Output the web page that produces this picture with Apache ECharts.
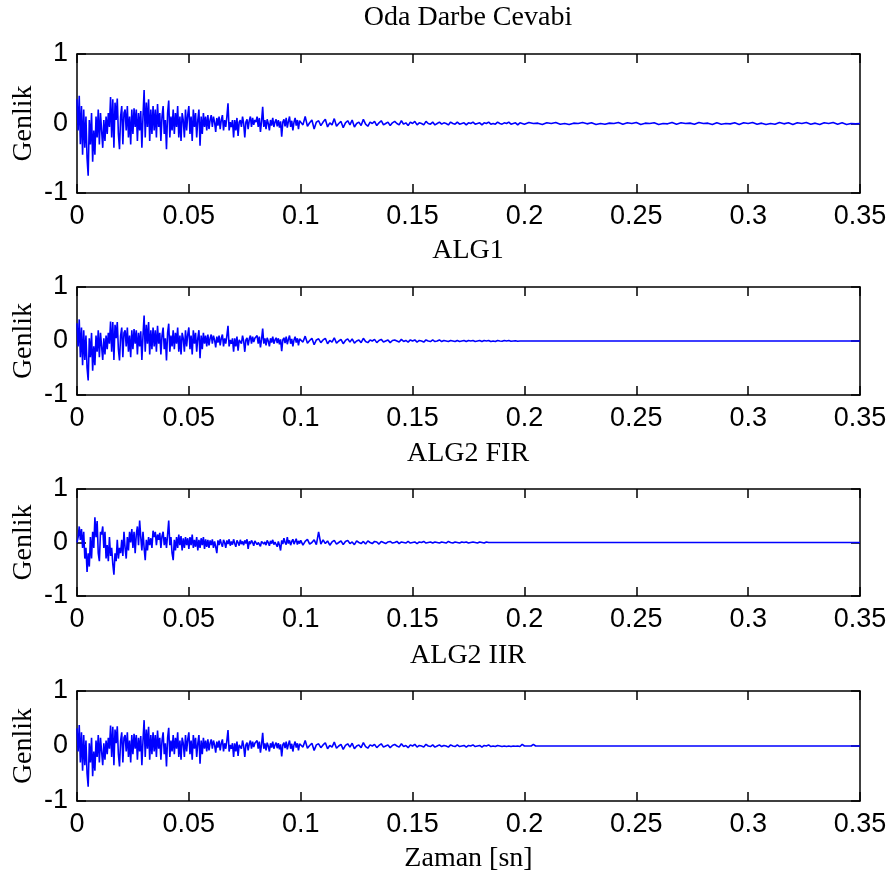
<!DOCTYPE html>
<html>
<head>
<meta charset="utf-8">
<script src="https://cdn.jsdelivr.net/npm/echarts@6/dist/echarts.min.js"></script>
<style>
  html, body { margin: 0; padding: 0; background: #fff; }
  #chart { width: 890px; height: 888px; }
</style>
</head>
<body>
<div id="chart"></div>
<script>
// Panel titles and axis text
const panelTitles = ['Oda Darbe Cevabi', 'ALG1', 'ALG2 FIR', 'ALG2 IIR'];
const yName = 'Genlik';
const xName = 'Zaman [sn]';
const xTicks = [0, 0.05, 0.1, 0.15, 0.2, 0.25, 0.3, 0.35];
const yTicks = [-1, 0, 1];

// Sampling of the stored segments (seconds)
const fineStep = 0.0005;   // 0 .. 0.1 s
const midStep = 0.001;     // 0.1 s onward
const tailStep = 0.002;    // 0.2 .. 0.35 s (room response only)
const midStart = 0.1;
const tailStart = 0.2;
const endTime = 0.35;
const restValue = 0;

// Room impulse response ("Oda Darbe Cevabi"), 0 .. 0.0995 s
const roomEarly = [
  0.35, -0.1, 0.4, -0.3, 0.25, -0.45, 0.2, -0.35, 0.1, -0.5,
  -0.75, 0.05, -0.3, 0.15, -0.55, -0.1, -0.45, 0.1, -0.2, 0.2,
  -0.3, 0.15, -0.1, -0.35, 0.05, -0.25, 0.1, -0.15, 0.15, -0.05,
  0.38, -0.2, 0.35, -0.35, 0.3, 0.05, 0.36, -0.15, -0.37, 0.1,
  0.25, -0.3, 0.15, 0.2, -0.1, 0.25, -0.2, 0.1, -0.3, 0.2,
  -0.15, 0.22, -0.05, 0.2, -0.25, 0.15, -0.1, 0.18, -0.35, 0.1,
  0.48, -0.2, 0.3, -0.05, 0.35, -0.25, 0.2, -0.15, 0.25, -0.1,
  0.2, -0.2, 0.28, -0.05, 0.15, -0.25, 0.1, 0.25, -0.15, 0.05,
  -0.37, 0.15, 0.33, -0.2, 0.1, -0.1, 0.2, -0.15, 0.15, -0.05,
  0.25, -0.2, 0.1, -0.25, 0.15, 0.05, -0.2, 0.2, -0.1, 0.12,
  0.25, -0.15, 0.1, -0.25, 0.2, -0.05, 0.15, -0.2, 0.05, 0.2,
  -0.32, 0.1, -0.15, 0.15, -0.05, 0.1, -0.1, 0.12, -0.08, 0.05,
  0.12, -0.05, 0.1, 0.02, -0.12, 0.08, -0.03, 0.1, -0.08, 0.05,
  0.12, -0.1, 0.05, -0.05, 0.1, 0.29, -0.1, 0.02, -0.05, 0.05,
  -0.2, 0.05, -0.1, 0.08, -0.18, 0.02, 0.05, -0.05, 0.1, 0,
  -0.2, 0.02, 0.06, -0.08, 0.04, 0.1, -0.05, 0.08, -0.02, 0.05,
  0.02, 0.1, -0.05, 0.08, -0.12, 0.03, 0.24, -0.05, 0.05, -0.08,
  0.06, 0, -0.1, 0.05, -0.03, 0.08, -0.05, 0.02, 0.06, -0.04,
  0.05, -0.06, 0.03, -0.19, 0.02, 0.06, -0.04, 0.08, -0.06, 0.03,
  0.1, -0.05, 0.04, -0.1, 0.02, 0.08, -0.03, 0.05, -0.08, 0.04
];
// 0.1 .. 0.199 s
const roomMid = [
  0.06, -0.02, 0.1, -0.04, 0.01, 0.05, -0.08, 0.02, 0.04, -0.03,
  0.02, 0.06, -0.05, 0.01, -0.02, 0.07, -0.04, 0, 0.03, -0.06,
  0.01, 0.04, -0.02, 0.05, -0.05, 0, 0.02, -0.03, 0.06, -0.01,
  -0.04, 0.02, 0, 0.03, -0.03, 0.01, 0.04, -0.02, 0, 0.02,
  -0.03, 0.01, 0.03, 0, -0.02, 0.04, -0.01, 0.01, -0.03, 0.02,
  0, 0.03, -0.02, 0.01, 0, -0.02, 0.03, 0, -0.01, 0.02,
  -0.02, 0, 0.02, -0.01, 0.01, 0, -0.02, 0.02, 0, -0.01,
  0.02, -0.01, 0, 0.01, -0.02, 0.01, 0, 0.02, -0.01, 0,
  0.01, -0.02, 0.01, 0, 0.02, -0.01, 0, -0.01, 0.02, 0,
  -0.01, 0.01, 0, 0.02, -0.01, 0, 0.01, -0.02, 0.01, 0
];
// 0.2 .. 0.35 s
const roomTail = [
  -0.01, 0.015, 0, 0.005, -0.015, 0.01, 0, 0.015, -0.01, 0,
  -0.015, 0.005, 0, 0.015, -0.005, 0.01, -0.015, 0, -0.01, 0.005,
  0, 0.015, -0.01, 0.01, 0, 0.015, -0.015, 0.005, 0, 0.01,
  -0.015, 0, -0.005, 0.015, -0.01, 0.01, 0, 0.005, -0.01, 0.015,
  0, 0.005, -0.015, 0.01, -0.01, 0, -0.005, 0.01, -0.015, 0.01,
  0, 0.015, -0.01, 0.005, -0.015, 0, -0.01, 0.015, -0.005, 0.01,
  -0.015, 0.01, 0, 0.015, -0.01, 0.005, -0.015, 0.01, 0, 0.015,
  -0.01, 0.01, -0.015, 0, -0.005, 0
];

// ALG1 output, 0 .. 0.0995 s
const alg1Early = [
  0.33, -0.1, 0.4, -0.3, 0.25, -0.45, 0.2, -0.35, 0.1, -0.5,
  -0.73, 0.05, -0.3, 0.15, -0.55, -0.1, -0.45, 0.1, -0.2, 0.2,
  -0.3, 0.15, -0.1, -0.35, 0.05, -0.25, 0.1, -0.15, 0.15, -0.05,
  0.36, -0.2, 0.35, -0.35, 0.3, 0.05, 0.35, -0.15, -0.36, 0.1,
  0.25, -0.3, 0.15, 0.2, -0.1, 0.25, -0.2, 0.1, -0.3, 0.2,
  -0.15, 0.22, -0.05, 0.2, -0.25, 0.15, -0.1, 0.18, -0.35, 0.1,
  0.47, -0.2, 0.3, -0.05, 0.35, -0.25, 0.2, -0.15, 0.25, -0.1,
  0.2, -0.2, 0.28, -0.05, 0.15, -0.25, 0.1, 0.25, -0.15, 0.05,
  -0.36, 0.15, 0.32, -0.2, 0.1, -0.1, 0.2, -0.15, 0.15, -0.05,
  0.25, -0.2, 0.1, -0.25, 0.15, 0.05, -0.2, 0.2, -0.1, 0.12,
  0.25, -0.15, 0.1, -0.25, 0.2, -0.05, 0.15, -0.2, 0.05, 0.2,
  -0.32, 0.1, -0.15, 0.15, -0.05, 0.1, -0.1, 0.12, -0.08, 0.05,
  0.12, -0.05, 0.1, 0.02, -0.12, 0.08, -0.03, 0.1, -0.08, 0.05,
  0.12, -0.1, 0.05, -0.05, 0.1, 0.28, -0.1, 0.02, -0.05, 0.05,
  -0.2, 0.05, -0.1, 0.08, -0.18, 0.02, 0.05, -0.05, 0.1, 0,
  -0.2, 0.02, 0.06, -0.08, 0.04, 0.1, -0.05, 0.08, -0.02, 0.05,
  0.02, 0.1, -0.05, 0.08, -0.12, 0.03, 0.23, -0.05, 0.05, -0.08,
  0.06, 0, -0.1, 0.05, -0.03, 0.08, -0.05, 0.02, 0.06, -0.04,
  0.05, -0.06, 0.03, -0.19, 0.02, 0.06, -0.04, 0.08, -0.06, 0.03,
  0.1, -0.05, 0.04, -0.1, 0.02, 0.08, -0.03, 0.05, -0.08, 0.04
];
// 0.1 .. 0.199 s
const alg1Mid = [
  0.06, -0.02, 0.09, -0.04, 0.01, 0.05, -0.07, 0.02, 0.04, -0.03,
  0.02, 0.05, -0.05, 0.01, -0.02, 0.06, -0.04, 0, 0.03, -0.05,
  0.01, 0.04, -0.02, 0.04, -0.04, 0, 0.02, -0.03, 0.05, -0.01,
  -0.03, 0.02, 0, 0.03, -0.03, 0.01, 0.03, -0.02, 0, 0.02,
  -0.03, 0.01, 0.02, 0, -0.02, 0.03, -0.01, 0.01, -0.02, 0.02,
  0, 0.02, -0.02, 0.01, 0, -0.02, 0.02, 0, -0.01, 0.02,
  -0.01, 0, 0.02, -0.01, 0.01, 0, -0.01, 0.01, 0, -0.01,
  0.01, -0.01, 0, 0.01, -0.01, 0.01, 0, 0.01, -0.01, 0,
  0.01, -0.01, 0.01, 0, 0.01, -0.01, 0, -0.01, 0.01, 0,
  -0.005, 0.01, 0, 0.01, -0.005, 0, 0.005, -0.005, 0, 0
];

// ALG2 FIR output, 0 .. 0.0995 s
const firEarly = [
  0, 0.1, 0.3, 0.05, 0.25, -0.1, 0.2, -0.3, -0.1, -0.55,
  -0.2, -0.45, 0.1, -0.3, 0.2, -0.1, 0.47, 0.1, 0.4, -0.2,
  -0.35, 0.2, 0.15, 0.3, -0.1, 0.2, -0.3, -0.05, -0.35, 0.1,
  -0.25, -0.1, -0.4, -0.6, -0.2, -0.35, 0.05, -0.3, -0.1, -0.2,
  0.05, -0.25, 0.2, -0.1, -0.3, 0.1, -0.15, 0.2, 0, 0.25,
  -0.1, 0.2, -0.2, 0.15, 0.3, -0.05, 0.41, 0.1, -0.15, 0.2,
  -0.1, -0.33, 0.05, -0.15, 0.1, -0.05, 0.08, -0.1, 0.22, 0.1,
  0.2, -0.05, 0.15, 0.05, 0.18, -0.1, 0.12, 0.2, -0.05, 0.1,
  -0.1, 0.15, 0.41, -0.05, 0.1, -0.2, -0.33, 0.05, -0.15, 0.1,
  -0.1, 0.15, -0.05, 0.12, -0.15, 0.08, -0.1, 0.1, -0.05, 0.08,
  -0.12, 0.1, -0.05, 0.15, -0.1, 0.05, -0.08, 0.1, -0.15, 0.05,
  -0.1, 0.08, -0.05, 0.1, -0.12, 0.06, -0.08, 0.05, -0.1, 0.04,
  -0.05, 0.06, -0.1, 0.02, -0.08, -0.2, 0.04, -0.05, 0.06, -0.02,
  -0.08, 0.05, 0, -0.1, 0.04, -0.03, 0.06, -0.06, 0.02, -0.04,
  0.06, -0.02, -0.08, 0.04, 0, -0.06, 0.05, -0.03, 0.02, -0.05,
  0.04, -0.02, 0.06, -0.12, 0.02, -0.03, 0.04, 0, -0.06, 0.03,
  0.05, -0.04, 0, 0.03, -0.07, 0.02, 0.05, -0.03, 0.01, -0.05,
  0.04, 0, -0.06, 0.03, -0.02, 0.05, -0.04, 0.01, 0.02, -0.08,
  0.02, -0.05, -0.15, 0.04, -0.03, 0.08, 0, -0.04, 0.1, -0.02,
  0.04, -0.05, 0.02, 0.06, -0.03, 0, 0.07, -0.04, 0.03, -0.02
];
// 0.1 .. 0.184 s
const firMid = [
  0.04, -0.05, 0.02, 0.06, -0.03, 0, 0.05, -0.04, 0.2, -0.03,
  0.05, -0.02, 0.03, -0.05, 0.01, 0.04, -0.03, 0, 0.03, -0.04,
  0.02, 0.04, -0.02, 0.01, -0.04, 0.03, 0, -0.02, 0.02, -0.03,
  0.03, 0, -0.02, 0.02, 0.01, -0.03, 0.02, 0, -0.02, 0.01,
  0.02, -0.01, 0, 0.02, -0.02, 0.01, 0, -0.01, 0.02, -0.01,
  0, 0.01, -0.02, 0.01, 0, 0.02, -0.01, 0, 0.01, -0.01,
  0.01, 0, -0.01, 0.01, 0, -0.01, 0.02, 0, -0.01, 0.01,
  0, -0.01, 0.01, 0, 0.01, -0.01, 0, 0.01, 0, -0.01,
  0.01, 0, -0.01, 0.01, 0
];

// ALG2 IIR output, 0 .. 0.0995 s
const iirEarly = [
  0.32, -0.1, 0.38, -0.3, 0.25, -0.45, 0.2, -0.35, 0.1, -0.5,
  -0.74, 0.05, -0.3, 0.15, -0.55, -0.1, -0.45, 0.1, -0.2, 0.2,
  -0.3, 0.15, -0.1, -0.35, 0.05, -0.25, 0.1, -0.15, 0.15, -0.05,
  0.37, -0.2, 0.35, -0.35, 0.3, 0.05, 0.36, -0.15, -0.37, 0.1,
  0.25, -0.3, 0.15, 0.2, -0.1, 0.25, -0.2, 0.1, -0.3, 0.2,
  -0.15, 0.22, -0.05, 0.2, -0.25, 0.15, -0.1, 0.18, -0.35, 0.1,
  0.47, -0.2, 0.3, -0.05, 0.35, -0.25, 0.2, -0.15, 0.25, -0.1,
  0.2, -0.2, 0.28, -0.05, 0.15, -0.25, 0.1, 0.25, -0.15, 0.05,
  -0.37, 0.15, 0.33, -0.2, 0.1, -0.1, 0.2, -0.15, 0.15, -0.05,
  0.25, -0.2, 0.1, -0.25, 0.15, 0.05, -0.2, 0.2, -0.1, 0.12,
  0.25, -0.15, 0.1, -0.25, 0.2, -0.05, 0.15, -0.2, 0.05, 0.2,
  -0.32, 0.1, -0.15, 0.15, -0.05, 0.1, -0.1, 0.12, -0.08, 0.05,
  0.12, -0.05, 0.1, 0.02, -0.12, 0.08, -0.03, 0.1, -0.08, 0.05,
  0.12, -0.1, 0.05, -0.05, 0.1, 0.29, -0.1, 0.02, -0.05, 0.05,
  -0.2, 0.05, -0.1, 0.08, -0.18, 0.02, 0.05, -0.05, 0.1, 0,
  -0.2, 0.02, 0.06, -0.08, 0.04, 0.1, -0.05, 0.08, -0.02, 0.05,
  0.02, 0.1, -0.05, 0.08, -0.12, 0.03, 0.24, -0.05, 0.05, -0.08,
  0.06, 0, -0.1, 0.05, -0.03, 0.08, -0.05, 0.02, 0.06, -0.04,
  0.05, -0.06, 0.03, -0.19, 0.02, 0.06, -0.04, 0.08, -0.06, 0.03,
  0.1, -0.05, 0.04, -0.1, 0.02, 0.08, -0.03, 0.05, -0.08, 0.04
];
// 0.1 .. 0.205 s
const iirMid = [
  0.06, -0.02, 0.1, -0.04, 0.01, 0.05, -0.08, 0.02, 0.04, -0.03,
  0.02, 0.06, -0.05, 0.01, -0.02, 0.07, -0.04, 0, 0.03, -0.06,
  0.01, 0.04, -0.02, 0.05, -0.05, 0, 0.02, -0.03, 0.06, -0.01,
  -0.04, 0.02, 0, 0.03, -0.03, 0.01, 0.04, -0.02, 0, 0.02,
  -0.03, 0.01, 0.03, 0, -0.02, 0.04, -0.01, 0.01, -0.03, 0.02,
  0, 0.03, -0.02, 0.01, 0, -0.02, 0.03, 0, -0.01, 0.02,
  -0.02, 0, 0.02, -0.01, 0.01, 0, -0.02, 0.02, 0, -0.01,
  0.02, -0.01, 0, 0.01, -0.02, 0.01, 0, 0.02, -0.01, 0,
  0.01, -0.02, 0.01, 0, 0.02, -0.01, 0, -0.01, 0.01, 0,
  -0.01, 0, -0.01, 0, -0.01, 0, -0.005, 0, -0.01, 0.03,
  0, 0, 0, 0, 0.03, 0
];

// Turn stored value segments into [time, value] samples
function samples(values, t0, dt) {
  return values.map((v, i) => [+(t0 + i * dt).toFixed(4), v]);
}
function withRest(points) {
  return points.concat([[endTime, restValue]]);
}

const seriesData = [
  samples(roomEarly, 0, fineStep)
    .concat(samples(roomMid, midStart, midStep))
    .concat(samples(roomTail, tailStart, tailStep)),
  withRest(samples(alg1Early, 0, fineStep).concat(samples(alg1Mid, midStart, midStep))),
  withRest(samples(firEarly, 0, fineStep).concat(samples(firMid, midStart, midStep))),
  withRest(samples(iirEarly, 0, fineStep).concat(samples(iirMid, midStart, midStep)))
];

// Panel layout (pixels)
const panels = [
  { top: 54, height: 139, titleY: 18 },
  { top: 287, height: 108, titleY: 251 },
  { top: 489, height: 107, titleY: 454 },
  { top: 691, height: 110, titleY: 656 }
];

const serif = 'Liberation Serif, Times New Roman, serif';
const sans = 'Liberation Sans, Arial, sans-serif';
const lineColor = '#0000ff';
const axisColor = '#000000';

const grids = [], xAxes = [], yAxes = [], series = [], graphics = [];

panels.forEach((p, i) => {
  grids.push({ left: 77, right: 30, top: p.top, height: p.height, show: false,
    outerBoundsMode: 'none' });

  const axisLine = { show: true, onZero: false, lineStyle: { color: axisColor, width: 1.5 } };
  const tick = { show: true, inside: true, length: 9, lineStyle: { color: axisColor, width: 1.5 } };

  // bottom axis with labels
  xAxes.push({
    type: 'value', gridIndex: i, position: 'bottom',
    min: xTicks[0], max: xTicks[xTicks.length - 1], interval: xTicks[1] - xTicks[0],
    axisLine, axisTick: tick, splitLine: { show: false },
    axisLabel: { color: '#000', fontFamily: sans, fontSize: 27, margin: 10,
      showMinLabel: true, showMaxLabel: true },
    name: i === panels.length - 1 ? xName : '',
    nameLocation: 'middle', nameGap: 44, nameMoveOverlap: false,
    nameTextStyle: { color: '#000', fontFamily: serif, fontSize: 28 }
  });
  // top mirror axis
  xAxes.push({
    type: 'value', gridIndex: i, position: 'top',
    min: xTicks[0], max: xTicks[xTicks.length - 1], interval: xTicks[1] - xTicks[0],
    axisLine, axisTick: tick, splitLine: { show: false }, axisLabel: { show: false }
  });
  // left axis with labels
  yAxes.push({
    type: 'value', gridIndex: i, position: 'left',
    min: yTicks[0], max: yTicks[yTicks.length - 1], interval: yTicks[1] - yTicks[0],
    axisLine, axisTick: tick, splitLine: { show: false },
    axisLabel: { color: '#000', fontFamily: sans, fontSize: 27, margin: 9 },
    name: yName, nameLocation: 'middle', nameGap: 39, nameRotate: 90,
    nameMoveOverlap: false,
    nameTextStyle: { color: '#000', fontFamily: serif, fontSize: 28 }
  });
  // right mirror axis
  yAxes.push({
    type: 'value', gridIndex: i, position: 'right',
    min: yTicks[0], max: yTicks[yTicks.length - 1], interval: yTicks[1] - yTicks[0],
    axisLine, axisTick: tick, splitLine: { show: false }, axisLabel: { show: false }
  });

  series.push({
    type: 'line', xAxisIndex: i * 2, yAxisIndex: i * 2,
    data: seriesData[i], showSymbol: false, symbol: 'none',
    lineStyle: { color: lineColor, width: 1.6 }, z: 1
  });

  graphics.push({
    type: 'text', x: 468, y: p.titleY,
    style: { text: panelTitles[i], fill: '#000', font: '28px ' + serif,
      textAlign: 'center', textVerticalAlign: 'middle' }
  });
});

const chart = echarts.init(document.getElementById('chart'), null, { renderer: 'canvas' });
chart.setOption({
  animation: false,
  backgroundColor: '#ffffff',
  grid: grids,
  xAxis: xAxes,
  yAxis: yAxes,
  series: series,
  graphic: graphics
});
</script>
</body>
</html>
